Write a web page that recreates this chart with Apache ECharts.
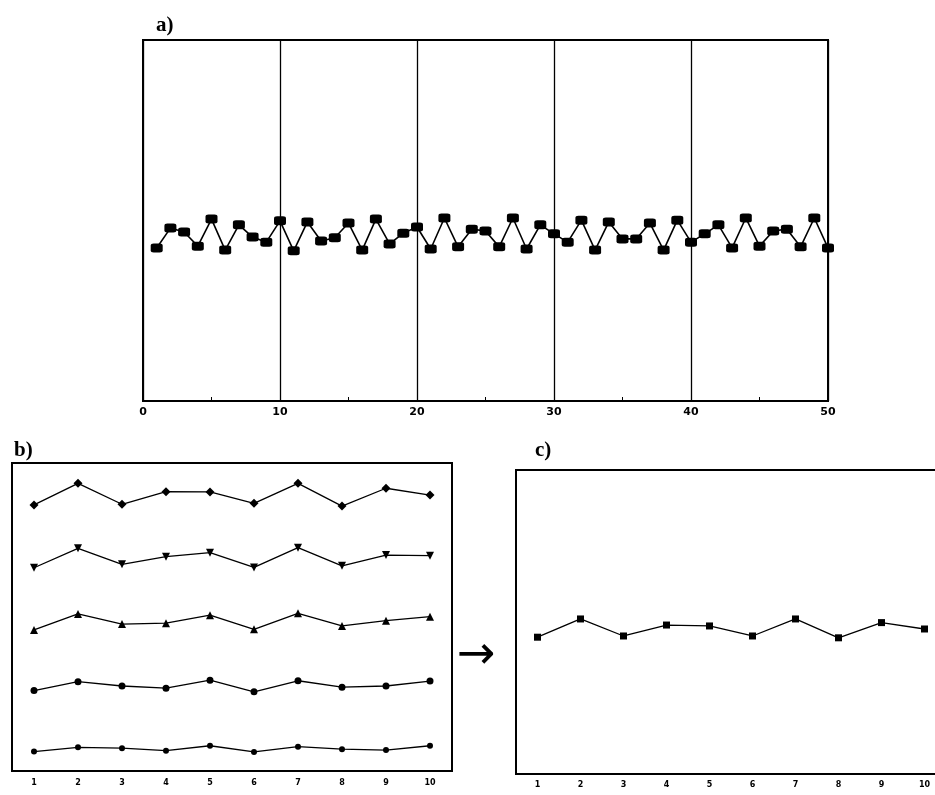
<!DOCTYPE html>
<html>
<head>
<meta charset="utf-8">
<script src="https://cdn.jsdelivr.net/npm/echarts@6/dist/echarts.min.js"></script>
<style>
  html, body { margin: 0; padding: 0; background: #fff; }
  #main { width: 935px; height: 795px; }
</style>
</head>
<body>
<div id="main"></div>
<script>
// panel a: 50 runs, one measurement each
var runsA = [];
for (var i = 1; i <= 50; i++) runsA.push(i);
var valuesA = [42.4, 47.9, 46.8, 42.9, 50.4, 41.8, 48.8, 45.4, 44.0, 49.9,
               41.6, 49.6, 44.3, 45.2, 49.3, 41.8, 50.4, 43.5, 46.5, 48.2,
               42.1, 50.7, 42.7, 47.6, 47.1, 42.7, 50.7, 42.1, 48.8, 46.3,
               44.0, 50.1, 41.8, 49.6, 44.9, 44.9, 49.3, 41.8, 50.1, 44.0,
               46.3, 48.8, 42.4, 50.7, 42.9, 47.1, 47.6, 42.7, 50.7, 42.4];
var ticksA = [0, 10, 20, 30, 40, 50];

// panel b: five stacked series over 10 categories
var catsB = ['1', '2', '3', '4', '5', '6', '7', '8', '9', '10'];
var seriesB1 = [86.4, 93.4, 86.6, 90.7, 90.6, 86.9, 93.4, 86.0, 91.8, 89.6];
var seriesB2 = [66.0, 72.3, 67.1, 69.6, 70.9, 66.1, 72.5, 66.6, 70.1, 69.9];
var seriesB3 = [45.8, 51.0, 47.7, 48.0, 50.6, 46.0, 51.2, 47.1, 48.8, 50.1];
var seriesB4 = [26.1, 29.0, 27.6, 26.9, 29.5, 25.7, 29.3, 27.2, 27.6, 29.2];
var seriesB5 = [6.3, 7.7, 7.4, 6.6, 8.2, 6.2, 7.9, 7.1, 6.8, 8.2];

// panel c: combined result
var catsC = ['1', '2', '3', '4', '5', '6', '7', '8', '9', '10'];
var valuesC = [45.0, 51.0, 45.4, 49.0, 48.7, 45.4, 51.0, 44.8, 49.8, 47.7];

var pairsA = runsA.map(function (r, k) { return [r, valuesA[k]]; });

var myChart = echarts.init(document.getElementById('main'));

var frame = { show: true, borderColor: '#000', borderWidth: 2, backgroundColor: 'transparent', outerBoundsMode: 'none', containLabel: false };
function smallLabel(size) {
    return { color: '#000', fontSize: size, fontWeight: 'bold', fontFamily: 'DejaVu Sans' };
}
function lineSeries(xi, yi, data, symbol, size, rotate, width) {
    return {
        type: 'line', xAxisIndex: xi, yAxisIndex: yi, data: data,
        symbol: symbol, symbolSize: size, symbolRotate: rotate || 0,
        showAllSymbol: true,
        lineStyle: { color: '#000', width: width || 1.3 },
        itemStyle: { color: '#000' },
        emphasis: { disabled: true },
        animation: false
    };
}

var option = {
    animation: false,
    backgroundColor: '#fff',
    title: [
        { text: 'a)', left: 151, top: 10, textStyle: { fontFamily: 'Liberation Serif', fontSize: 21, fontWeight: 'bold', color: '#000' } },
        { text: 'b)', left: 9, top: 435, textStyle: { fontFamily: 'Liberation Serif', fontSize: 21, fontWeight: 'bold', color: '#000' } },
        { text: 'c)', left: 530, top: 435, textStyle: { fontFamily: 'Liberation Serif', fontSize: 21, fontWeight: 'bold', color: '#000' } }
    ],
    graphic: [
        { type: 'text', left: 457, top: 633, style: { text: '→', fontSize: 46, fontFamily: 'DejaVu Sans', fill: '#000' } }
    ],
    grid: [
        Object.assign({ left: 143, top: 40, width: 685, height: 361 }, frame),
        Object.assign({ left: 12, top: 463, width: 440, height: 308 }, frame),
        Object.assign({ left: 516, top: 470, width: 430, height: 304 }, frame)
    ],
    xAxis: [
        {
            gridIndex: 0, type: 'value', min: 0, max: 50, interval: 10,
            axisLine: { lineStyle: { color: '#000', width: 2 } },
            axisTick: { show: false },
            minorTick: { show: true, splitNumber: 2, length: -4, lineStyle: { color: '#000', width: 1 } },
            splitLine: { show: true, lineStyle: { color: '#000', width: 1.3 } },
            axisLabel: Object.assign({ margin: 6 }, smallLabel(11))
        },
        {
            gridIndex: 1, type: 'category', data: catsB, boundaryGap: true,
            axisLine: { lineStyle: { color: '#000', width: 2 } },
            axisTick: { show: false },
            splitLine: { show: false },
            axisLabel: Object.assign({ margin: 8 }, smallLabel(8))
        },
        {
            gridIndex: 2, type: 'category', data: catsC, boundaryGap: true,
            axisLine: { lineStyle: { color: '#000', width: 2 } },
            axisTick: { show: false },
            splitLine: { show: false },
            axisLabel: Object.assign({ margin: 7 }, smallLabel(8))
        }
    ],
    yAxis: [
        { gridIndex: 0, type: 'value', min: 0, max: 100, axisLabel: { show: false }, axisTick: { show: false }, splitLine: { show: false }, axisLine: { lineStyle: { color: '#000', width: 2 } } },
        { gridIndex: 1, type: 'value', min: 0, max: 100, axisLabel: { show: false }, axisTick: { show: false }, splitLine: { show: false }, axisLine: { lineStyle: { color: '#000', width: 2 } } },
        { gridIndex: 2, type: 'value', min: 0, max: 100, axisLabel: { show: false }, axisTick: { show: false }, splitLine: { show: false }, axisLine: { lineStyle: { color: '#000', width: 2 } } }
    ],
    series: [
        lineSeries(0, 0, pairsA, 'roundRect', [12, 9], 0, 1.6),
        lineSeries(1, 1, seriesB1, 'diamond', 9),
        lineSeries(1, 1, seriesB2, 'triangle', 8, 180),
        lineSeries(1, 1, seriesB3, 'triangle', 8),
        lineSeries(1, 1, seriesB4, 'circle', 7),
        lineSeries(1, 1, seriesB5, 'circle', 6),
        lineSeries(2, 2, valuesC, 'rect', 7)
    ]
};
myChart.setOption(option);
</script>
</body>
</html>
